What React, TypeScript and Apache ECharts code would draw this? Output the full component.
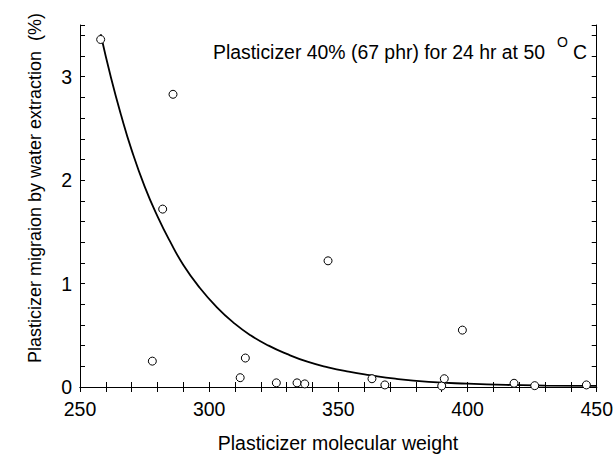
import React, { useEffect, useRef } from "react";
import * as echarts from "echarts";

const molWeight = [258, 278, 282, 286, 312, 314, 326, 334, 337, 346, 363, 368, 390, 391, 398, 418, 426, 446];
const migration = [3.36, 0.25, 1.72, 2.83, 0.09, 0.28, 0.04, 0.04, 0.03, 1.22, 0.08, 0.02, 0.01, 0.08, 0.55, 0.036, 0.013, 0.02];

const curveX = [258, 262, 266, 270, 275, 280, 285, 290, 296, 303, 310, 316, 323, 330, 338, 346, 354, 362, 372, 385, 400, 415, 430, 450];
const curveY = [3.41, 2.99, 2.62, 2.29, 1.94, 1.65, 1.4, 1.18, 0.97, 0.77, 0.61, 0.5, 0.4, 0.32, 0.245, 0.19, 0.148, 0.115, 0.08, 0.05, 0.032, 0.02, 0.014, 0.01];

const xTickLabels = [250, 300, 350, 400, 450];
const yTickLabels = [0, 1, 2, 3];

const xTitle = "Plasticizer molecular weight";
const yTitle = "Plasticizer migraion by water extraction  (%)";
const noteMain = "Plasticizer 40% (67 phr) for 24 hr at 50";
const noteSup = "O";
const noteEnd = "C";

const FONT = "'Liberation Sans', Arial, sans-serif";
const FS = 19.5;

export default function App() {
  const ref = useRef<HTMLDivElement>(null);
  useEffect(() => {
    document.body.style.margin = "0";
    if (!ref.current) return;
    const chart = echarts.init(ref.current, null, { renderer: "svg" });
    const near = (v: number, list: number[]) => list.some((t) => Math.abs(t - v) < 1e-6);
    const tickCommon = {
      axisLine: { show: true, lineStyle: { color: "#000", width: 1 } },
      axisTick: { show: true, inside: true, length: 5, lineStyle: { color: "#000", width: 1 } },
      splitLine: { show: false },
    };
    chart.setOption({
      animation: false,
      backgroundColor: "#fff",
      grid: { left: 80, right: 19, top: 25, bottom: 67, containLabel: false },
      xAxis: [
        {
          type: "value",
          min: 250,
          max: 450,
          interval: 10,
          position: "bottom",
          ...tickCommon,
          axisLabel: {
            margin: 12,
            color: "#000",
            fontSize: FS,
            fontFamily: FONT,
            formatter: (v: number) => (near(v, xTickLabels) ? String(Math.round(v)) : ""),
          },
        },
        {
          type: "value",
          min: 250,
          max: 450,
          interval: 10,
          position: "top",
          ...tickCommon,
          axisLabel: { show: false },
        },
      ],
      yAxis: [
        {
          type: "value",
          min: 0,
          max: 3.5,
          interval: 0.2,
          position: "left",
          ...tickCommon,
          axisLabel: {
            margin: 8,
            color: "#000",
            fontSize: FS,
            fontFamily: FONT,
            formatter: (v: number) => (near(v, yTickLabels) ? String(Math.round(v)) : ""),
          },
        },
        {
          type: "value",
          min: 0,
          max: 3.5,
          interval: 0.2,
          position: "right",
          ...tickCommon,
          axisLabel: { show: false },
        },
      ],
      series: [
        {
          type: "line",
          data: curveX.map((x, i) => [x, curveY[i]]),
          smooth: 0.5,
          showSymbol: false,
          symbol: "none",
          lineStyle: { color: "#000", width: 1.8 },
          z: 2,
        },
        {
          type: "scatter",
          data: molWeight.map((x, i) => [x, migration[i]]),
          symbol: "circle",
          symbolSize: 8,
          itemStyle: { color: "#fff", borderColor: "#000", borderWidth: 1, opacity: 1 },
          z: 3,
        },
      ],
      graphic: [
        {
          type: "text",
          x: 338,
          y: 443,
          style: { text: xTitle, fill: "#000", font: `${FS}px ${FONT}`, align: "center", verticalAlign: "middle" },
        },
        {
          type: "text",
          x: 35,
          y: 188,
          rotation: Math.PI / 2,
          style: { text: yTitle, fill: "#000", font: `18px ${FONT}`, align: "center", verticalAlign: "middle" },
        },
        {
          type: "text",
          x: 213,
          y: 52,
          style: { text: noteMain, fill: "#000", font: `19.4px ${FONT}`, align: "left", verticalAlign: "middle" },
        },
        {
          type: "text",
          x: 557,
          y: 42,
          style: { text: noteSup, fill: "#000", font: `14px ${FONT}`, align: "left", verticalAlign: "middle" },
        },
        {
          type: "text",
          x: 573,
          y: 52,
          style: { text: noteEnd, fill: "#000", font: `19.4px ${FONT}`, align: "left", verticalAlign: "middle" },
        },
      ],
    });
    return () => chart.dispose();
  }, []);
  return <div ref={ref} style={{ width: 616, height: 454 }} />;
}
